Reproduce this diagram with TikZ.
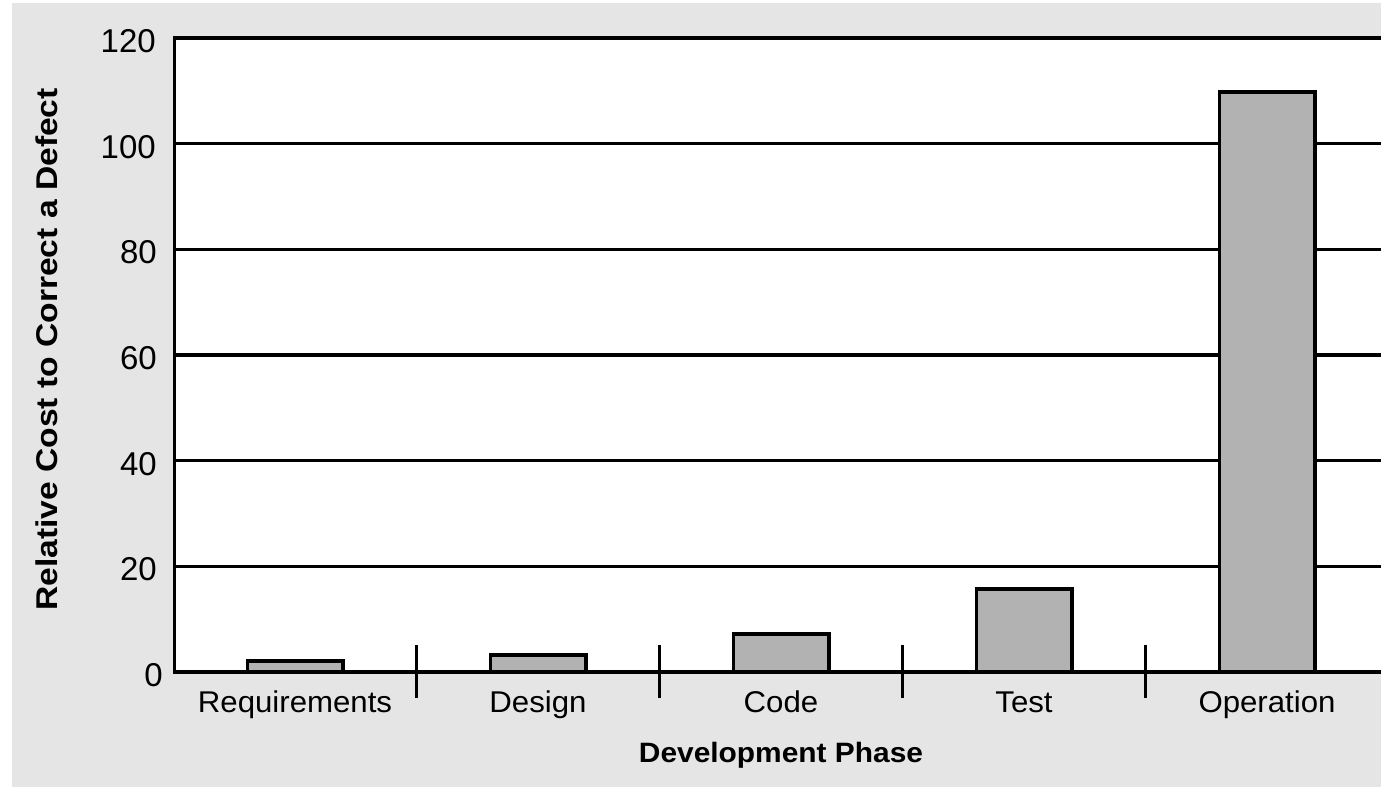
\documentclass[tikz,border=0pt]{standalone}
\usepackage{fontspec}
\setmainfont{Liberation Sans}
\definecolor{bggray}{HTML}{E5E5E5}
\definecolor{barfill}{HTML}{B2B2B2}
\tikzset{
  axisline/.style={line width=3.6pt, black, line join=miter},
  gridline/.style={line width=3.4pt, black},
  tickmark/.style={line width=3.4pt, black},
  barbox/.style={fill=barfill, draw=black, line width=3.6pt},
  ticklab/.style={inner sep=0pt, anchor=east, font=\fontsize{33}{38}\selectfont},
  catlab/.style={inner sep=0pt, anchor=base, font=\fontsize{30}{36}\selectfont},
  axtitle/.style={inner sep=0pt, anchor=base, font=\fontsize{28}{34}\selectfont\bfseries},
  ytitle/.style={inner sep=0pt, anchor=base, rotate=90, font=\fontsize{30}{36}\selectfont\bfseries},
}
\begin{document}
\begin{tikzpicture}[x=1pt,y=-1pt]
\useasboundingbox (0,0) rectangle (1381,787);
\fill[white] (0,0) rectangle (1381,787);
\fill[bggray] (12,3) rectangle (1381,787);
\fill[white] (175,38) rectangle (1381,672);
% grid lines
\foreach \yy in {143.7,249.3,355,460.7,566.3} {
  \draw[gridline] (175,\yy) -- (1381,\yy);
}
% axes frame
\draw[axisline] (1381,38) -- (174.5,38) -- (174.5,672) -- (1381,672);
% tick marks between categories
\foreach \xx in {416.5,659.5,902.5,1145.5} {
  \draw[tickmark] (\xx,645) -- (\xx,698);
}
% bars
\draw[barbox] (247.3,672) rectangle (342.7,660.8);
\draw[barbox] (490.3,672) rectangle (585.7,654.8);
\draw[barbox] (733.3,672) rectangle (828.7,633.8);
\draw[barbox] (976.3,672) rectangle (1071.7,588.8);
\draw[barbox] (1219.3,672) rectangle (1314.7,91.8);
% tick labels
\node[ticklab] (l120) at (156,41) {120};
\node[ticklab] (l100) at (156,147) {100};
\node[ticklab] (l80) at (157,252.3) {80};
\node[ticklab] (l60) at (157,358) {60};
\node[ticklab] (l40) at (157,463.7) {40};
\node[ticklab] (l20) at (157,569.3) {20};
\node[ticklab] (l0) at (163,675) {0};
% category labels
\node[catlab] (creq) at (295,712) {\scalebox{1.04}[1]{Requirements}};
\node[catlab] (cdes) at (538,712) {\scalebox{1.04}[1]{Design}};
\node[catlab] (ccod) at (781,712) {\scalebox{1.04}[1]{Code}};
\node[catlab] (ctes) at (1024,712) {\scalebox{1.04}[1]{Test}};
\node[catlab] (cope) at (1267,712) {\scalebox{1.04}[1]{Operation}};
% axis titles
\node[axtitle] (xtitle) at (781,762) {\scalebox{1.068}[1]{Development Phase}};
\node[ytitle] (ytitle) at (57,349.5) {\scalebox{1.12}[1]{Relative Cost to Correct a Defect}};
\end{tikzpicture}
\end{document}
